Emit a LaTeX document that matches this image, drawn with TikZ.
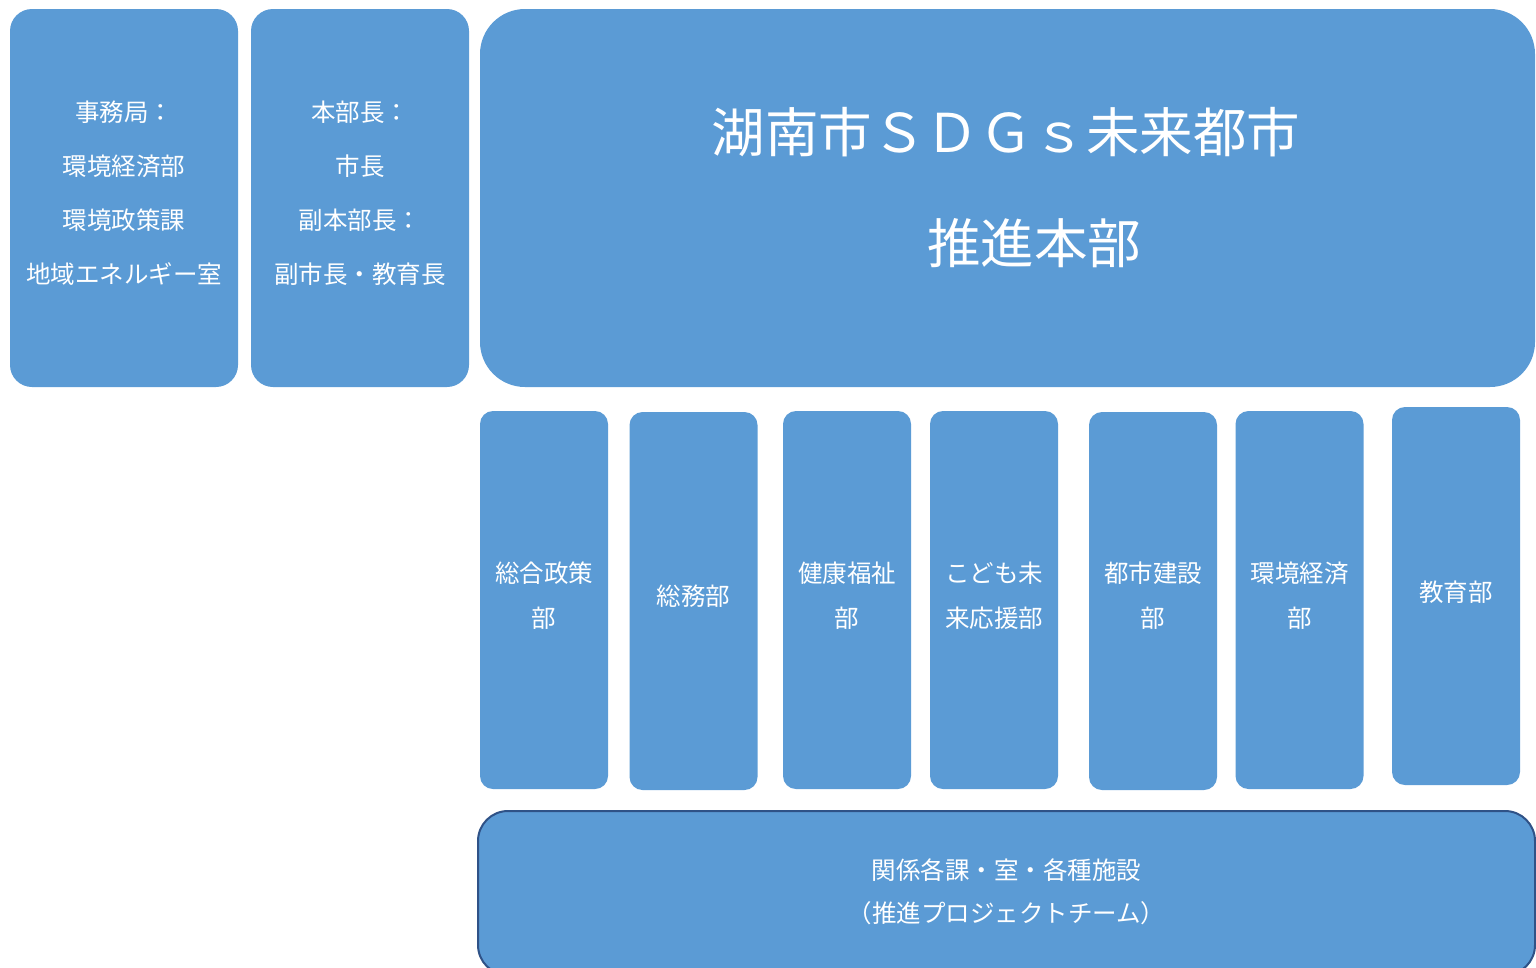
\documentclass[tikz,border=0pt]{standalone}
\usepackage{fontspec}
\setmainfont{Noto Sans CJK JP}
\definecolor{boxblue}{HTML}{5B9BD5}
\definecolor{edgeblue}{HTML}{2F5287}
\begin{document}
\begin{tikzpicture}[x=1pt,y=-1pt,
  box/.style={fill=boxblue, draw=none, rounded corners=#1, inner sep=0pt},
  dept/.style={box=13pt, minimum width=128pt, minimum height=378pt},
  txt/.style={text=white, inner sep=0pt, align=center, font=\fontsize{24.5}{#1}\selectfont},
  title/.style={text=white, inner sep=0pt, font=\fontsize{53.5}{60}\selectfont}
]
\useasboundingbox (0,0) rectangle (1536,967);
\clip (0,0) rectangle (1536,967);
% top row
\node[box=22pt, minimum width=228pt, minimum height=378pt] (office) at (124,198) {};
\node[box=22pt, minimum width=218pt, minimum height=378pt] (chief) at (360,198) {};
\node[box=45pt, minimum width=1055pt, minimum height=378pt] (hq) at (1007.5,198) {};
\node[txt=54] (officetext) at ([yshift=5pt]office.center)
  {事務局：\\環境経済部\\環境政策課\\地域エネルギー室};
\node[txt=54] (chieftext) at ([yshift=5pt]chief.center)
  {本部長：\\市長\\副本部長：\\副市長・教育長};
\node[title] (title1) at (1006,132) {湖南市ＳＤＧｓ未来都市};
\node[title] (title2) at (1034,243) {推進本部};
% departments
\node[dept] (d1) at (544,600) {};
\node[dept] (d2) at (693.5,601) {};
\node[dept] (d3) at (847,600) {};
\node[dept] (d4) at (994,600) {};
\node[dept] (d5) at (1153,601) {};
\node[dept] (d6) at (1299.5,600) {};
\node[dept] (d7) at (1456,596) {};
\node[txt=45] (d1text) at (544,596) {総合政策\\部};
\node[txt=45] (d2text) at (693.5,596) {総務部};
\node[txt=45] (d3text) at (847,596) {健康福祉\\部};
\node[txt=45] (d4text) at (994,596) {こども未\\来応援部};
\node[txt=45] (d5text) at (1153,596) {都市建設\\部};
\node[txt=45] (d6text) at (1299.5,596) {環境経済\\部};
\node[txt=45] (d7text) at (1456,592) {教育部};
% bottom
\node[box=30pt, draw=edgeblue, line width=2pt, minimum width=1057pt, minimum height=164pt]
  (team) at (1006.5,893) {};
\node[txt=43] (teamtext) at (1006.5,892)
  {関係各課・室・各種施設\\（推進プロジェクトチーム）};
\end{tikzpicture}
\end{document}
